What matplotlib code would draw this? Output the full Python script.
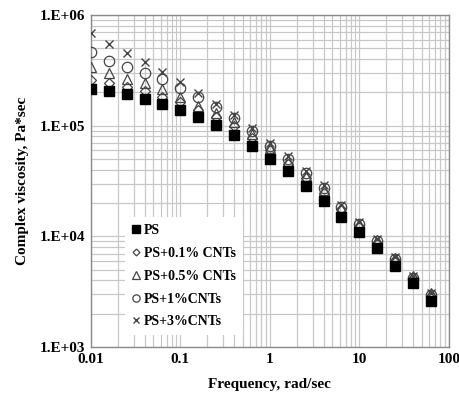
import matplotlib
matplotlib.use('Agg')
import matplotlib.pyplot as plt
from matplotlib.ticker import LogLocator, FixedLocator, FixedFormatter, NullFormatter

plt.rcParams['font.family'] = ['Liberation Serif', 'DejaVu Serif']
plt.rcParams['font.weight'] = 'bold'

# Frequency, rad/sec
freq = [0.01, 0.0158, 0.0251, 0.0398, 0.0631, 0.1, 0.158, 0.251, 0.398, 0.631,
        1, 1.58, 2.51, 3.98, 6.31, 10, 15.8, 25.1, 39.8, 63.1]

# Complex viscosity, Pa*sec
ps = [2.15e5, 2.07e5, 1.94e5, 1.75e5, 1.58e5, 1.39e5, 1.21e5, 1.02e5, 8.3e4, 6.6e4,
      5.05e4, 3.86e4, 2.88e4, 2.07e4, 1.51e4, 1.09e4, 7.8e3, 5.37e3, 3.78e3, 2.6e3]
ps_01 = [2.6e5, 2.45e5, 2.24e5, 2.07e5, 1.82e5, 1.64e5, 1.39e5, 1.21e5, 1.0e5, 7.8e4,
         6.0e4, 4.5e4, 3.35e4, 2.45e4, 1.75e4, 1.25e4, 8.8e3, 6.1e3, 4.2e3, 2.9e3]
ps_05 = [3.4e5, 3.0e5, 2.65e5, 2.44e5, 2.15e5, 1.82e5, 1.51e5, 1.31e5, 1.08e5, 8.4e4,
         6.3e4, 4.75e4, 3.5e4, 2.6e4, 1.8e4, 1.3e4, 9.2e3, 6.4e3, 4.4e3, 3.1e3]
ps_1 = [4.6e5, 3.85e5, 3.4e5, 3.0e5, 2.65e5, 2.2e5, 1.82e5, 1.48e5, 1.18e5, 9.0e4,
        6.6e4, 5.0e4, 3.7e4, 2.75e4, 1.85e4, 1.3e4, 9.0e3, 6.2e3, 4.2e3, 2.95e3]
ps_3 = [6.9e5, 5.5e5, 4.55e5, 3.78e5, 3.06e5, 2.49e5, 1.98e5, 1.58e5, 1.26e5, 9.6e4,
        7.0e4, 5.3e4, 3.86e4, 2.94e4, 1.94e4, 1.36e4, 9.4e3, 6.5e3, 4.4e3, 3.1e3]

labels = ['PS', 'PS+0.1% CNTs', 'PS+0.5% CNTs', 'PS+1%CNTs', 'PS+3%CNTs']
x_ticks = [0.01, 0.1, 1, 10, 100]
x_labels = ['0.01', '0.1', '1', '10', '100']
y_ticks = [1e3, 1e4, 1e5, 1e6]
y_labels = ['1.E+03', '1.E+04', '1.E+05', '1.E+06']

fig = plt.figure(figsize=(4.59, 3.94), dpi=100)
ax = fig.add_axes([0.198, 0.119, 0.78, 0.843])
ax.set_xscale('log')
ax.set_yscale('log')
ax.set_xlim(0.01, 100)
ax.set_ylim(1e3, 1e6)

# grid on major + minor
ax.grid(True, which='both', color='#c8c8c8', linewidth=0.9)
ax.set_axisbelow(True)

mc = '#444444'
ax.plot(freq, ps_3, ls='none', marker='x', ms=6, mec=mc, mew=1.0, label=labels[4], zorder=3)
ax.plot(freq, ps_1, ls='none', marker='o', ms=7.5, mfc='none', mec=mc, mew=0.9, label=labels[3], zorder=3)
ax.plot(freq, ps_05, ls='none', marker='^', ms=7.5, mfc='none', mec=mc, mew=0.9, label=labels[2], zorder=3)
ax.plot(freq, ps_01, ls='none', marker='D', ms=5, mfc='none', mec=mc, mew=0.9, label=labels[1], zorder=3)
ax.plot(freq, ps, ls='none', marker='s', ms=7.5, color='black', label=labels[0], zorder=4)

ax.xaxis.set_major_locator(FixedLocator(x_ticks))
ax.xaxis.set_major_formatter(FixedFormatter(x_labels))
ax.xaxis.set_minor_locator(LogLocator(base=10, subs=range(2, 10)))
ax.xaxis.set_minor_formatter(NullFormatter())
ax.yaxis.set_major_locator(FixedLocator(y_ticks))
ax.yaxis.set_major_formatter(FixedFormatter(y_labels))
ax.yaxis.set_minor_locator(LogLocator(base=10, subs=range(2, 10)))
ax.yaxis.set_minor_formatter(NullFormatter())
ax.tick_params(which='both', length=0, labelsize=11, pad=4)

for s in ax.spines.values():
    s.set_color('#8a8a8a')
    s.set_linewidth(1.0)

ax.set_xlabel('Frequency, rad/sec', fontsize=11, fontweight='bold', labelpad=9)
ax.set_ylabel('Complex viscosity, Pa*sec', fontsize=11, fontweight='bold', labelpad=8)

h, l = ax.get_legend_handles_labels()
order = [4, 3, 2, 1, 0]
leg = ax.legend([h[i] for i in order], [l[i] for i in order], loc='lower left',
                bbox_to_anchor=(0.075, 0.015), fontsize=10, frameon=True,
                handlelength=0.6, handletextpad=0.3, labelspacing=0.7,
                markerscale=0.7, borderpad=0.5)
leg.get_frame().set_edgecolor('none')
leg.get_frame().set_facecolor('white')
leg.get_frame().set_alpha(1)
leg.set_zorder(5)

fig.savefig('out.png', dpi=100)
